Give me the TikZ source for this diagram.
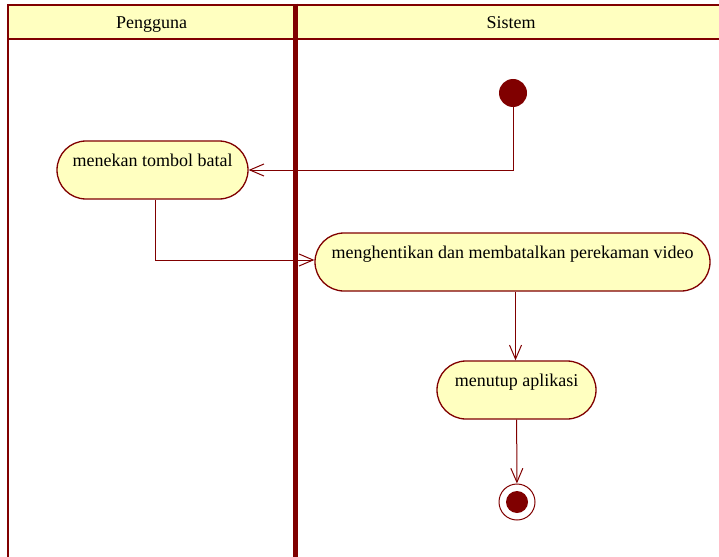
\documentclass[tikz,border=0pt]{standalone}
\usepackage{fontspec}
\setmainfont{Liberation Serif}
\usetikzlibrary{arrows.meta}
\definecolor{umlred}{RGB}{128,0,0}
\definecolor{umlfill}{RGB}{255,255,192}
\begin{document}
\begin{tikzpicture}[x=1pt,y=-1pt,
  every node/.style={font=\fontsize{18}{20}\selectfont},
  activity/.style={draw=umlred, line width=1.3pt, fill=umlfill,
    rounded corners=29pt, minimum height=58pt, inner sep=0pt,
    text height=25pt, text depth=33pt},
  lanetitle/.style={anchor=base},
  flow/.style={draw=umlred, line width=1pt,
    -{Straight Barb[length=14pt,width=12pt,line width=1pt]}},
  startnode/.style={circle, fill=umlred, minimum size=28pt, inner sep=0pt},
  endnode/.style={circle, draw=umlred, line width=1pt, fill=white,
    minimum size=36pt, inner sep=0pt,
    path picture={\fill[umlred] (path picture bounding box.center) circle (11pt);}},
  laneline/.style={draw=umlred, line width=2.6pt}]
  \useasboundingbox (0,0) rectangle (719,556);

  % swimlane frame and headers
  \fill[umlfill] (8,5) rectangle (725,39);
  \draw[laneline] (8,560) -- (8,5) -- (725,5);
  \draw[laneline] (8,39) -- (725,39);
  \draw[umlred, line width=5pt] (295.5,3.7) -- (295.5,560);
  \node[lanetitle] (pengguna) at (151.5,29) {Pengguna};
  \node[lanetitle] (sistem) at (511,29) {Sistem};

  % activities
  \node[startnode] (start) at (513,93) {};
  \node[activity, minimum width=191pt] (batal) at (152.5,170) {menekan tombol batal};
  \node[activity, minimum width=395pt] (henti) at (512.5,262) {menghentikan dan membatalkan perekaman video};
  \node[activity, minimum width=159pt] (tutup) at (516.5,390) {menutup aplikasi};
  \node[endnode] (end) at (517,502) {};

  % control flow
  \draw[flow] (start) |- (batal);
  \draw[flow] (batal.south -| 155.5,0) |- ([yshift=2pt]henti.west);
  \draw[flow] (henti.south -| 515.5,0) -- (tutup.north -| 515.5,0);
  \draw[flow] (tutup) -- (end);
\end{tikzpicture}
\end{document}
